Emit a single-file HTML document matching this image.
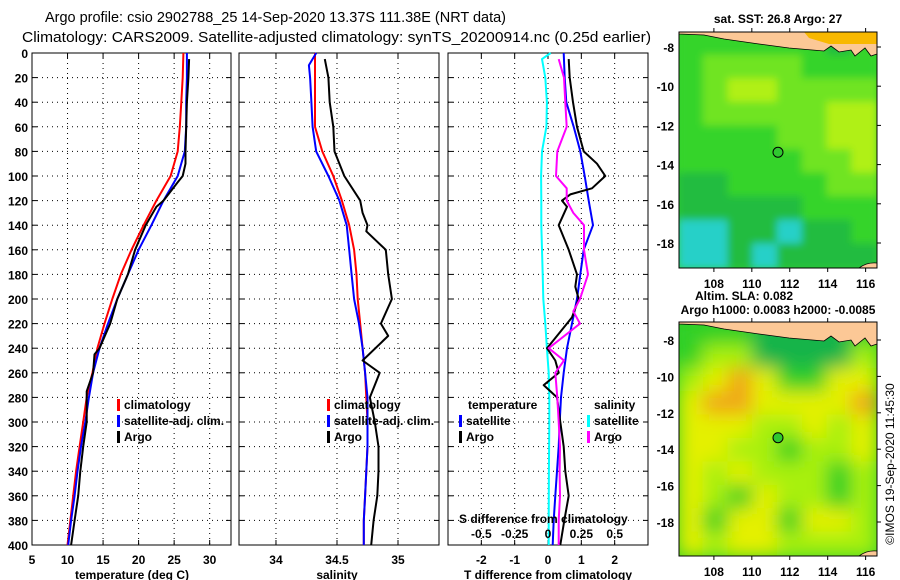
<!DOCTYPE html>
<html><head><meta charset="utf-8"><style>
html,body{margin:0;padding:0;background:#fff;}
svg{display:block;font-family:"Liberation Sans",Arial,sans-serif;}
.t{font-size:12px;font-weight:bold;fill:#000;}
</style></head><body>
<svg id="fig" width="900" height="580" viewBox="0 0 900 580">
<text x="45" y="22" font-size="15" textLength="461" lengthAdjust="spacingAndGlyphs">Argo profile: csio 2902788_25 14-Sep-2020 13.37S 111.38E (NRT data)</text>
<text x="22" y="42" font-size="15" textLength="629" lengthAdjust="spacingAndGlyphs">Climatology: CARS2009. Satellite-adjusted climatology: synTS_20200914.nc (0.25d earlier)</text>
<g id="p1"></g>
<g id="p2"></g>
<g id="p3"></g>
<g id="m1"></g>
<g id="m2"></g>
<text x="778" y="23" text-anchor="middle" font-size="12" font-weight="bold">sat. SST: 26.8 Argo: 27</text>
<text x="695" y="300" font-size="12" font-weight="bold">Altim. SLA: 0.082</text>
<text x="778" y="314" text-anchor="middle" font-size="12" font-weight="bold">Argo h1000: 0.0083 h2000: -0.0085</text>
<text transform="translate(894,464) rotate(-90)" text-anchor="middle" font-size="12">©IMOS 19-Sep-2020 11:45:30</text>
</svg>
<script>
const depthTicks=[0,20,40,60,80,100,120,140,160,180,200,220,240,260,280,300,320,340,360,380,400];
const zStd=[0,20,40,60,80,100,120,140,160,180,200,220,240,260,280,300,320,340,360,380,400];
const tClim=[26.3,26.2,26.0,25.8,25.5,24.5,22.5,20.7,19.0,17.5,16.3,15.2,14.2,13.5,12.7,12.2,11.7,11.2,10.8,10.4,10.0];
const tSat=[26.8,26.8,26.7,26.7,26.5,25.5,23.5,21.8,20.0,18.5,17.0,15.7,14.5,13.6,13.0,12.5,11.9,11.4,11.0,10.5,10.1];
const zArgoT=[5,20,40,60,80,90,100,105,120,125,140,160,180,200,220,240,245,260,275,300,320,340,360,380,400];
const tArgo=[27.1,27.0,26.8,26.7,26.6,26.6,26.2,25.5,23.5,22.5,21.0,19.5,18.5,17.0,16.0,14.5,13.8,13.6,12.7,12.7,12.2,11.8,11.5,11.0,10.5];
const sClim=[34.32,34.32,34.32,34.32,34.38,34.47,34.54,34.60,34.64,34.66,34.67,34.69,34.71,34.73,34.74,34.75,34.75,34.74,34.73,34.72,34.72];
const zSat=[0,10,20,40,60,80,100,120,140,160,180,200,220,240,260,280,300,320,340,360,380,400];
const sSat=[34.33,34.27,34.28,34.29,34.30,34.33,34.43,34.52,34.58,34.60,34.62,34.64,34.68,34.71,34.73,34.75,34.75,34.75,34.74,34.73,34.72,34.72];
const zArgoS=[5,20,40,60,80,100,120,130,140,145,160,180,200,220,230,250,260,280,300,320,340,360,380,400];
const sArgo=[34.40,34.43,34.44,34.47,34.48,34.56,34.69,34.71,34.75,34.74,34.90,34.92,34.95,34.86,34.92,34.71,34.85,34.77,34.81,34.84,34.84,34.83,34.80,34.78];
const dTSat=[0.47,0.5,0.55,0.77,0.97,1.1,1.22,1.35,1.07,0.97,0.87,0.72,0.57,0.47,0.39,0.35,0.32,0.27,0.22,0.17,0.14];
const zDT=[5,20,40,60,80,90,100,110,115,120,125,140,160,180,190,200,215,240,250,260,270,280,300,320,340,360,380,400];
const dTArgo=[0.62,0.65,0.75,0.87,1.07,1.47,1.72,1.32,0.67,0.42,0.57,0.32,0.62,0.87,0.82,0.92,0.72,-0.03,0.22,0.32,-0.13,0.27,0.37,0.47,0.52,0.62,0.49,0.37];
const zDS=[0,5,20,40,60,80,100,120,140,160,180,200,220,240,260,280,300,320,340,360,380,400];
const dSSat=[0.02,-0.045,-0.02,-0.008,-0.012,-0.045,-0.052,-0.05,-0.05,-0.045,-0.04,-0.035,-0.02,-0.008,0.005,0.01,0.01,0.008,0.007,0.006,0.005,0.005];
const zDSA=[5,20,40,60,80,100,110,120,130,140,160,180,200,210,220,240,250,260,280,300,320,340,360,380,400];
const dSArgo=[0.08,0.12,0.13,0.14,0.07,0.06,0.14,0.14,0.19,0.27,0.27,0.30,0.24,0.19,0.24,0.005,0.12,0.055,0.07,0.08,0.09,0.087,0.09,0.08,0.08];
const tTicks=[5,10,15,20,25,30];
const sTicks=[34,34.5,35];
const dTicks=[-2,-1,0,1,2];
const dSTickVals=[-0.5,-0.25,0,0.25,0.5];
const dSTickLabels=["-0.5","-0.25","0","0.25","0.5"];
const lonTicks=[108,110,112,114,116];
const latTicks=[-8,-10,-12,-14,-16,-18];
const sstGrid=[[2,2,2,2,2,2,1,2],[2,3,3,3,3,2,2,2],[2,3,4,4,3,3,3,3],[2,3,3,3,3,3,4,4],[2,2,2,2,3,3,4,4],[2,2,2,2,2,3,3,4],[1,1,2,2,2,2,3,3],[1,1,1,1,1,2,2,2],[0,0,1,1,0,1,1,2],[0,0,1,0,1,1,1,1]];
const slaGrid=[[2,2,2,1,1,1,1,2],[2,3,3,1,1,1,1,3],[3,4,5,4,2,2,4,4],[4,5,5,4,4,4,4,5],[4,4,4,3,3,4,3,4],[4,4,3,3,2,3,3,4],[4,3,4,3,3,3,2,3],[4,3,2,4,3,3,2,3],[4,2,4,4,2,4,4,3],[4,3,4,4,3,3,3,3]];
const argoPos=[111.38,-13.37];

const NS="http://www.w3.org/2000/svg";
function mk(tag,attrs,parent){const e=document.createElementNS(NS,tag);for(const k in attrs)e.setAttribute(k,attrs[k]);parent.appendChild(e);return e;}
const Y0=53,Y1=545;
const yD=d=>Y0+(d/400)*(Y1-Y0);

function panel(g,x0,x1,dom,ticks,labels,showDepth,name){
  const xs=v=>x0+(v-dom[0])/(dom[1]-dom[0])*(x1-x0);
  ticks.forEach((t,i)=>{
    const gl=mk('line',{x1:xs(t),x2:xs(t),y1:Y0,y2:Y1,stroke:'#000','stroke-width':1,'stroke-dasharray':'1,4'},g);
    
    mk('line',{x1:xs(t),x2:xs(t),y1:Y0,y2:Y0+5,stroke:'#000'},g);
    mk('line',{x1:xs(t),x2:xs(t),y1:Y1,y2:Y1-5,stroke:'#000'},g);
    const tx=mk('text',{x:xs(t),y:Y1+19,'text-anchor':'middle',class:'t','font-size':'13'},g);tx.textContent=labels[i];
    
  });
  depthTicks.forEach(d=>{
    if(d>0&&d<400){const l=mk('line',{x1:x0,x2:x1,y1:yD(d),y2:yD(d),stroke:'#000','stroke-dasharray':'1,4'},g);
    }
    mk('line',{x1:x0,x2:x0+5,y1:yD(d),y2:yD(d),stroke:'#000'},g);
    mk('line',{x1:x1,x2:x1-5,y1:yD(d),y2:yD(d),stroke:'#000'},g);
    if(showDepth){const t=mk('text',{x:x0-4,y:yD(d)+5,'text-anchor':'end',class:'t','font-size':'13'},g);t.textContent=d;
    }
  });
  const r=mk('rect',{x:x0,y:Y0,width:x1-x0,height:Y1-Y0,fill:'none',stroke:'#000','stroke-width':1},g);
  
  return xs;
}
function line(g,xs,vals,zs,color,w,name){
  const pts=vals.map((v,i)=>xs(v).toFixed(1)+','+yD(zs[i]).toFixed(1)).join(' ');
  const p=mk('polyline',{points:pts,fill:'none',stroke:color,'stroke-width':w,'stroke-linejoin':'round'},g);
  
}
function legendItem(g,x,y,color,label,name){
  mk('rect',{x:x,y:y-10,width:3,height:12,fill:color},g);
  const t=mk('text',{x:x+7,y:y,class:'t'},g);t.textContent=label;
  
}
// panel 1
const g1=document.getElementById('p1');
const x1s=panel(g1,32,231,[5,33],tTicks,tTicks.map(String),true,'temperature');
line(g1,x1s,tClim,zStd,'#f00',2,'temp-climatology-line');
line(g1,x1s,tSat,zStd,'#00f',2,'temp-satellite-line');
line(g1,x1s,tArgo,zArgoT,'#000',2,'temp-argo-line');
legendItem(g1,117,409,'#f00','climatology','legend-climatology');
legendItem(g1,117,425,'#00f','satellite-adj. clim.','legend-satellite');
legendItem(g1,117,441,'#000','Argo','legend-argo');
{const t=mk('text',{x:132,y:579,'text-anchor':'middle',class:'t'},g1);t.textContent='temperature (deg C)';}
// panel 2
const g2=document.getElementById('p2');
const x2s=panel(g2,239,439,[33.697,35.336],sTicks,sTicks.map(String),false,'salinity');
line(g2,x2s,sClim,zStd,'#f00',2,'sal-climatology-line');
line(g2,x2s,sSat,zSat,'#00f',2,'sal-satellite-line');
line(g2,x2s,sArgo,zArgoS,'#000',2,'sal-argo-line');
legendItem(g2,327,409,'#f00','climatology','legend-climatology-2');
legendItem(g2,327,425,'#00f','satellite-adj. clim.','legend-satellite-2');
legendItem(g2,327,441,'#000','Argo','legend-argo-2');
{const t=mk('text',{x:337,y:579,'text-anchor':'middle',class:'t'},g2);t.textContent='salinity';}
// panel 3
const g3=document.getElementById('p3');
const x3s=panel(g3,448,648,[-3,3],dTicks,dTicks.map(String),false,'difference');
const xS=v=>x3s(v*4);
line(g3,xS,dSSat,zDS,'#0ff',2,'sal-diff-satellite-line');
line(g3,x3s,dTSat,zStd,'#00f',2,'temp-diff-satellite-line');
line(g3,x3s,dTArgo,zDT,'#000',2,'temp-diff-argo-line');
line(g3,xS,dSArgo,zDSA,'#f0f',2,'sal-diff-argo-line');
{const t=mk('text',{x:468,y:409,class:'t'},g3);t.textContent='temperature';}
{const t=mk('text',{x:594,y:409,class:'t'},g3);t.textContent='salinity';}
legendItem(g3,459,425,'#00f','satellite','legend-temp-satellite');
legendItem(g3,459,441,'#000','Argo','legend-temp-argo');
legendItem(g3,587,425,'#0ff','satellite','legend-sal-satellite');
legendItem(g3,587,441,'#f0f','Argo','legend-sal-argo');
{const t=mk('text',{x:459,y:523,class:'t'},g3);t.textContent='S difference from climatology';}
dSTickVals.forEach((v,i)=>{const t=mk('text',{x:xS(v),y:538,'text-anchor':'middle',class:'t'},g3);t.textContent=dSTickLabels[i];});
{const t=mk('text',{x:548,y:579,'text-anchor':'middle',class:'t'},g3);t.textContent='T difference from climatology';}

// maps
const cmapSST=['#28d0c8','#20bc40','#34d42c','#70e424','#b0f018'];
const cmapSLA=['#10a840','#18b448','#30d028','#a8f010','#e4f000','#f0a818'];
function map(id,top,bottom,latOff,latK,grid,cmap,smooth,name,orange){
  const g=document.getElementById(id);
  const L=679,R=877,T=top,B=bottom;
  const lx=v=>L+(v-106.16)/(116.6-106.16)*(R-L);
  const ly=v=>T+latOff+(-8-v)*latK;
  const defs=mk('defs',{},g);
  const cp=mk('clipPath',{id:id+'clip'},defs);mk('rect',{x:L,y:T,width:R-L,height:B-T},cp);
  const fl=mk('filter',{id:id+'blur',x:'-10%',y:'-10%',width:'120%',height:'120%'},defs);
  mk('feGaussianBlur',{stdDeviation:smooth},fl);
  const cg=mk('g',{'clip-path':'url(#'+id+'clip)'},g);
  mk('rect',{x:L,y:T,width:R-L,height:B-T,fill:cmap[2]},cg);
  const inner=mk('g',{filter:'url(#'+id+'blur)'},cg);
  const rows=grid.length,cols=grid[0].length,cw=(R-L)/cols,ch=(B-T)/rows;
  grid.forEach((row,r)=>row.forEach((v,c)=>{
    const cell=mk('rect',{x:L+c*cw-1,y:T+r*ch-1,width:cw+2,height:ch+2,fill:cmap[v]},inner);
    
  }));
  const land=mk('path',{d:`M${L},${T} L${L},${T+2} L${L+25},${T+3} L${L+45},${T+7} L${L+80},${T+12} L${L+110},${T+16} L${L+145},${T+19} L${L+152},${T+14} L${L+160},${T+20} L${L+172},${T+18} L${L+176},${T+24} L${L+186},${T+16} L${L+192},${T+24} L${R},${T+22} L${R},${T} Z`,fill:'#fcc896',stroke:'#000','stroke-width':0.8},cg);
  
  if(orange){mk('path',{d:`M${L+125},${T} L${L+130},${T+6} L${L+150},${T+12} L${R},${T+12} L${R},${T} Z`,fill:'#f8b800'},cg);}
  mk('path',{d:`M${R-18},${B} Q${R-10},${B-6} ${R},${B-5} L${R},${B} Z`,fill:'#fcc896',stroke:'#000','stroke-width':0.8},cg);
  const c=mk('circle',{cx:lx(argoPos[0]),cy:ly(argoPos[1]),r:5,fill:'#30c830',stroke:'#000','stroke-width':1},g);
  
  mk('rect',{x:L,y:T,width:R-L,height:B-T,fill:'none',stroke:'#000'},g);
  lonTicks.forEach(v=>{mk('line',{x1:lx(v),x2:lx(v),y1:T,y2:T-4,stroke:'#000'},g);mk('line',{x1:lx(v),x2:lx(v),y1:B,y2:B+4,stroke:'#000'},g);
    const t=mk('text',{x:lx(v),y:B+20,'text-anchor':'middle',class:'t','font-size':'13'},g);t.textContent=v;});
  latTicks.forEach(v=>{mk('line',{x1:R,x2:R+4,y1:ly(v),y2:ly(v),stroke:'#000'},g);
    const t=mk('text',{x:L-5,y:ly(v)+5,'text-anchor':'end',class:'t','font-size':'13'},g);t.textContent=v;});
}
map('m1',32,268,15,19.6,sstGrid,cmapSST,4,'sst-map',true);
map('m2',322,556,18,18.2,slaGrid,cmapSLA,9,'sla-map',false);
</script>
</body></html>
